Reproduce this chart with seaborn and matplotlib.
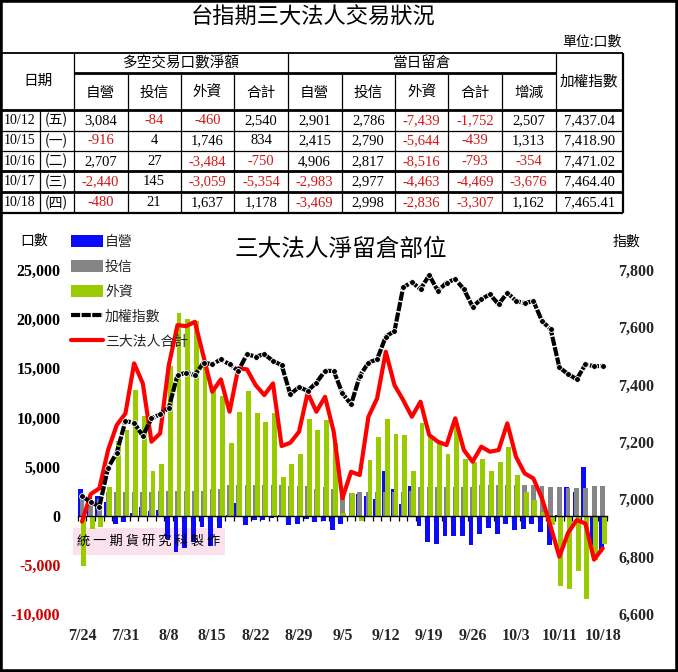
import numpy as np
import pandas as pd
import matplotlib
matplotlib.use("Agg")
import matplotlib.pyplot as plt
import seaborn as sns
from matplotlib.lines import Line2D
from matplotlib.patches import Patch, Rectangle

# ---------------- chart data ----------------
dates = ["7/24", "7/25", "7/26", "7/27", "7/30", "7/31", "8/1", "8/3", "8/6", "8/7",
         "8/8", "8/9", "8/10", "8/13", "8/14", "8/15", "8/16", "8/17", "8/20", "8/21",
         "8/22", "8/23", "8/24", "8/27", "8/28", "8/29", "8/30", "8/31", "9/3", "9/4",
         "9/5", "9/6", "9/7", "9/10", "9/11", "9/12", "9/13", "9/14", "9/17", "9/18",
         "9/19", "9/20", "9/21", "9/24", "9/25", "9/26", "9/27", "9/28", "10/1", "10/2",
         "10/3", "10/4", "10/5", "10/8", "10/9", "10/11", "10/12", "10/15", "10/16", "10/17",
         "10/18"]
tick_dates = ["7/24", "7/31", "8/8", "8/15", "8/22", "8/29", "9/5", "9/12", "9/19",
              "9/26", "10/3", "10/11", "10/18"]

prop_oi = [2700, 1800, 2000, 1400, -800, -600, 250, 900, 500, 550,
           -2400, -3700, -3300, -2700, -1100, -3100, -1300, 50, 1250, -950,
           -450, -400, -200, 80, -900, -850, -300, -600, -500, -1500,
           -800, -100, 2200, 2000, 1700, 4500, 2700, 1200, 3050, -1000,
           -2700, -2900, -2100, -2100, -2050, -2950, -1850, -1200, -1850, -800,
           -1450, -1350, -800, -1650, -2950, 100, 2901, 2415, 4906, -2983,
           -3469]
trust_oi = [1800, 1600, 1700, 2400, 2400, 2400, 2450, 2450, 2450, 2500,
            2500, 2500, 2500, 2550, 2550, 2700, 2700, 3100, 3100, 3100,
            3150, 3150, 3150, 3100, 3000, 3000, 3000, 2700, 2900, 2700,
            2300, 2300, 2400, 2450, 2450, 2400, 2400, 2400, 2500, 2900,
            2900, 2900, 2900, 2900, 2900, 2900, 3100, 3100, 3100, 3100,
            3100, 3100, 3100, 3000, 2900, 2900, 2786, 2790, 2817, 2977,
            2998]
foreign_oi = [-5100, -1400, -1150, 2900, 7600, 8700, 12800, 10100, 4600, 5300,
              15200, 20600, 20000, 19800, 15300, 13100, 12200, 7400, 10600, 12700,
              10500, 9500, 10500, 3900, 5300, 6300, 9800, 8700, 9700, 7400,
              300, 2270, -500, 5700, 8000, 9800, 8300, 8200, 4500, 9400,
              8000, 7500, 6300, 9100, 5800, 5500, 5800, 4500, 5500, 7000,
              4100, 2400, 1600, 400, -950, -7200, -7439, -5644, -8516, -4463,
              -2836]
total_oi = [-600, 2200, 2790, 6680, 9220, 10400, 15500, 13460, 7530, 8380,
            15330, 19390, 19290, 19730, 16200, 12610, 13870, 10580, 14990, 14890,
            13290, 12270, 13460, 7090, 7420, 8540, 12510, 10580, 12100, 8540,
            1770, 4470, 4140, 10070, 11940, 16680, 13290, 11770, 10070, 11600,
            8210, 7530, 7190, 9910, 6680, 5490, 7020, 6510, 6680, 9400,
            6000, 4310, 3800, 1770, -1120, -4170, -1752, -439, -793, -4469,
            -3307]
taiex = [7011, 6990, 6975, 7110, 7163, 7273, 7267, 7221, 7282, 7297,
         7320, 7433, 7442, 7433, 7477, 7471, 7488, 7471, 7448, 7506,
         7498, 7506, 7483, 7468, 7366, 7392, 7378, 7407, 7448, 7448,
         7370, 7331, 7430, 7477, 7488, 7568, 7587, 7739, 7758, 7733,
         7782, 7727, 7756, 7768, 7733, 7672, 7698, 7715, 7680, 7721,
         7692, 7684, 7692, 7622, 7593, 7460, 7437.04, 7418.90, 7471.02, 7464.40,
         7465.41]

left_ticks = [-10000, -5000, 0, 5000, 10000, 15000, 20000, 25000]
right_ticks = [6600, 6800, 7000, 7200, 7400, 7600, 7800]

# ---------------- table data ----------------
tbl_dates = ["10/12", "10/15", "10/16", "10/17", "10/18"]
tbl_days = ["(五)", "(一)", "(二)", "(三)", "(四)"]
net_prop = [3084, -916, 2707, -2440, -480]
net_trust = [-84, 4, 27, 145, 21]
net_foreign = [-460, 1746, -3484, -3059, 1637]
net_total = [2540, 834, -750, -5354, 1178]
oi_prop = [2901, 2415, 4906, -2983, -3469]
oi_trust = [2786, 2790, 2817, 2977, 2998]
oi_foreign = [-7439, -5644, -8516, -4463, -2836]
oi_total = [-1752, -439, -793, -4469, -3307]
oi_change = [2507, 1313, -354, -3676, 1162]
tbl_taiex = [7437.04, 7418.90, 7471.02, 7464.40, 7465.41]

# ---------------- style ----------------
sns.set_theme(style="white")
plt.rcParams["font.family"] = ["Noto Sans CJK TC", "DejaVu Sans"]
CJK = ["Noto Sans CJK TC", "DejaVu Sans"]
SERIF = ["Liberation Serif", "DejaVu Serif"]
RED_TXT = "#d01818"

W, H = 678, 672
fig = plt.figure(figsize=(W / 100, H / 100), dpi=100)
fig.patch.set_facecolor("white")


def fx(px):
    return px / W


def fy(py):
    return 1 - py / H


def hline(y, x0, x1, lw):
    fig.add_artist(Line2D([fx(x0), fx(x1)], [fy(y), fy(y)], transform=fig.transFigure,
                          color="black", lw=lw, solid_capstyle="butt"))


def vline(x, y0, y1, lw):
    fig.add_artist(Line2D([fx(x), fx(x)], [fy(y0), fy(y1)], transform=fig.transFigure,
                          color="black", lw=lw, solid_capstyle="butt"))


def ftext(x, y, s, size, family=CJK, color="black", ha="center", weight="normal", z=5):
    fig.text(fx(x), fy(y), s, fontsize=size, family=family, color=color, ha=ha,
             va="center", weight=weight, zorder=z)


# ---------------- table ----------------
ftext(313, 17, "台指期三大法人交易狀況", 16)
ftext(622, 42, "單位:口數", 10, ha="right")

cb = [0, 39.8, 73.5, 127.6, 180.7, 234.4, 287.5, 341.6, 394.8, 448.4, 501.6, 555.6, 622.7]
rb = [110, 130.5, 151, 171.5, 192, 213]
thin, thick = 0.9, 2.0
hline(53, 0, cb[-1], 1.3)
hline(73, cb[2], cb[11], thick)
hline(110, 0, cb[-1], thick)
hline(rb[1], 0, cb[-1], thin)
hline(rb[2], 0, cb[-1], thin)
hline(rb[3], 0, cb[-1], thick)
hline(rb[4], 0, cb[-1], thick)
hline(rb[5], 0, cb[-1], 1.6)
for c in [cb[2], cb[6], cb[11]]:
    vline(c, 53, 213, thin)
vline(cb[12], 53, 213, 1.6)
for c in [cb[3], cb[4], cb[5], cb[7], cb[8], cb[9], cb[10]]:
    vline(c, 73, 213, thin)
vline(cb[1], 110, 213, thin)

ftext(38, 81, "日期", 10.5)
ftext((cb[2] + cb[6]) / 2, 63, "多空交易口數淨額", 10.5)
ftext((cb[6] + cb[11]) / 2, 63, "當日留倉", 10.5)
ftext((cb[11] + cb[12]) / 2, 81, "加權指數", 10.5)
subs = ["自營", "投信", "外資", "合計", "自營", "投信", "外資", "合計", "增減"]
for k, s in enumerate(subs):
    ftext((cb[2 + k] + cb[3 + k]) / 2, 93, s, 10.5)

cols = [net_prop, net_trust, net_foreign, net_total, oi_prop, oi_trust, oi_foreign,
        oi_total, oi_change]
for r in range(len(tbl_dates)):
    yc = (rb[r] + rb[r + 1]) / 2
    ftext((cb[0] + cb[1]) / 2, yc, tbl_dates[r], 10, family=SERIF)
    ftext((cb[1] + cb[2]) / 2, yc, tbl_days[r], 10)
    for k, col in enumerate(cols):
        v = col[r]
        ftext((cb[2 + k] + cb[3 + k]) / 2, yc, f"{v:,}", 10.5, family=SERIF,
              color=RED_TXT if v < 0 else "black")
    ftext((cb[11] + cb[12]) / 2, yc, f"{tbl_taiex[r]:,.2f}", 10.5, family=SERIF)

# ---------------- chart ----------------
x = np.arange(len(dates))
df = pd.DataFrame({"pos": x, "total": total_oi, "taiex": taiex})

# watermark background (behind the plot)
fig.add_artist(Rectangle((fx(73), fy(555)), fx(225) - fx(73), fy(528) - fy(555),
                         transform=fig.transFigure, facecolor="#fbe1ee", edgecolor="none",
                         zorder=-5))

ax = fig.add_axes([fx(77.7), fy(614), fx(607.1) - fx(77.7), fy(270) - fy(614)])
ax.set_facecolor("none")
ax2 = ax.twinx()
ax2.set_facecolor("none")

BLUE, GRAY, GREEN = "#0a0aff", "#858585", "#99cc00"
bw = 0.56
off = 0.175
ax.bar(x - off, prop_oi, width=bw, color=BLUE, zorder=2, linewidth=0)
ax.bar(x, trust_oi, width=bw, color=GRAY, zorder=3, linewidth=0)
ax.bar(x + off, foreign_oi, width=bw, color=GREEN, zorder=4, linewidth=0)
sns.lineplot(data=df, x="pos", y="total", ax=ax, color="#ff0000", lw=3.0, zorder=6)
sns.lineplot(data=df, x="pos", y="taiex", ax=ax2, color="black", lw=3.0,
             linestyle=(0, (2.2, 0.35)), marker="o", markersize=4.2,
             markerfacecolor="black", markeredgecolor="white", markeredgewidth=0.6,
             zorder=7)

ax.set_xlim(-0.5, len(dates) - 0.5)
ax.set_ylim(-10000, 25000)
ax2.set_ylim(6600, 7800)
ax.set_xlabel("")
ax.set_ylabel("")
ax2.set_ylabel("")
ax2.set_xlabel("")

for a in (ax, ax2):
    for s in ["top", "left", "right", "bottom"]:
        a.spines[s].set_visible(False)
ax.spines["bottom"].set_visible(True)
ax.spines["bottom"].set_position(("data", 0))
ax.spines["bottom"].set_color("black")
ax.spines["bottom"].set_linewidth(1.0)
ax.spines["bottom"].set_zorder(5)
ax.grid(False)
ax2.grid(False)

tick_pos = [dates.index(d) for d in tick_dates]
ax.set_xticks(tick_pos, tick_dates)
ax.set_xticks(np.arange(-0.5, len(dates), 1.0), minor=True)
ax.tick_params(axis="x", which="major", length=0, pad=81)
ax.tick_params(axis="x", which="minor", direction="out", length=3.5, width=0.9,
               color="black", bottom=True)
for lab in ax.get_xticklabels():
    lab.set_family(SERIF)
    lab.set_weight("bold")
    lab.set_fontsize(11.5)

ax.set_yticks(left_ticks, [f"{v:,}" for v in left_ticks])
ax.tick_params(axis="y", length=0, pad=12.5)
for lab, v in zip(ax.get_yticklabels(), left_ticks):
    lab.set_family(SERIF)
    lab.set_weight("bold")
    lab.set_fontsize(11.5)
    lab.set_color("#cc0000" if v < 0 else "black")

ax2.set_yticks(right_ticks, [f"{v:,}" for v in right_ticks])
ax2.tick_params(axis="y", length=0, pad=8)
for lab in ax2.get_yticklabels():
    lab.set_family(SERIF)
    lab.set_weight("bold")
    lab.set_fontsize(11.5)

ftext(34, 241, "口數", 10)
ftext(626, 242, "指數", 10)
ftext(341, 250, "三大法人淨留倉部位", 17)
ftext(149, 541, "統 一 期 貨 研 究 科 製 作", 9.5, z=20)

handles = [Patch(facecolor=BLUE, edgecolor="none"),
           Patch(facecolor=GRAY, edgecolor="none"),
           Patch(facecolor=GREEN, edgecolor="none"),
           Line2D([0], [0], color="black", lw=3.0, linestyle=(0, (2.2, 0.35))),
           Line2D([0], [0], color="#ff0000", lw=3.0)]
labels = ["自營", "投信", "外資", "加權指數", "三大法人合計"]
leg = fig.legend(handles, labels, loc="upper left", bbox_to_anchor=(fx(71), fy(235)),
                 frameon=False, fontsize=10, handlelength=2.3, handleheight=0.95,
                 labelspacing=0.78, handletextpad=0.15, borderpad=0, borderaxespad=0)
leg.set_zorder(30)

# outer frame
fig.add_artist(Rectangle((0, 0), 1, 1, transform=fig.transFigure, fill=False,
                         edgecolor="black", lw=4, zorder=40))

fig.savefig("out.png", dpi=100)
